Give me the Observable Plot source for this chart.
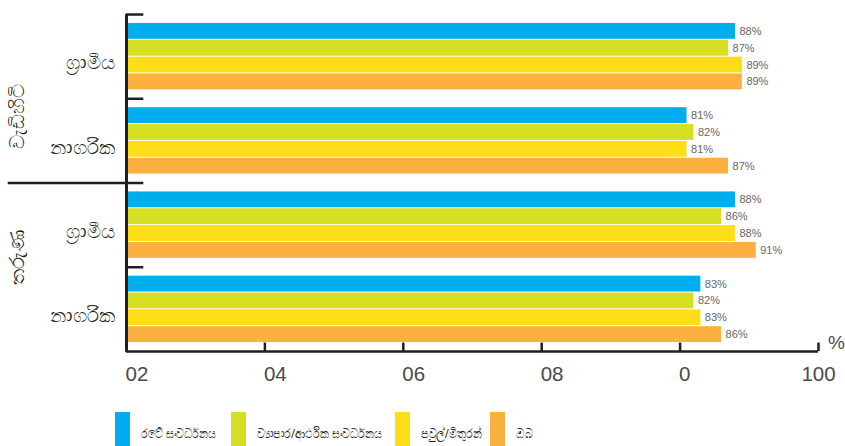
<!DOCTYPE html>
<html>
<head>
<meta charset="utf-8">
<script src="https://cdn.jsdelivr.net/npm/d3@7"></script>
<script src="https://cdn.jsdelivr.net/npm/@observablehq/plot@0.6"></script>
<style>
  html, body { margin: 0; padding: 0; background: #fff; }
  #chart svg { display: block; overflow: visible; }
  #legend { display: grid; grid-template-columns: 116px 164px 95px auto; align-items: end; height: 46px; box-sizing: border-box; padding: 10px 0 0 115px; font-family: "Noto Sans", sans-serif; font-size: 13px; color: #231f20; }
  .item { display: flex; align-items: flex-end; }
  .sw { width: 15px; height: 34px; margin-right: 11px; flex: none; }
  .lab { line-height: 1; padding-bottom: 6px; white-space: nowrap; transform: scaleX(0.85); transform-origin: left bottom; }
</style>
</head>
<body>
<div id="chart"></div>
<div id="legend"></div>
<script>
// ---- data ----
const ageGroups = ["වැඩිහිටි", "තරුණ"];
const areas = ["ග්‍රාමීය", "නාගරික"];
const series = ["රටේ සංවර්ධනය", "ව්‍යාපාර/ආර්ථික සංවර්ධනය", "පවුල්/මිතුරන්", "ඔබ"];
const colors = ["#00aeef", "#d7df23", "#ffde17", "#fbb040"];
const adultRural = [88, 87, 89, 89];
const adultUrban = [81, 82, 81, 87];
const youthRural = [88, 86, 88, 91];
const youthUrban = [83, 82, 83, 86];
const xTicks = [0, 20, 40, 60, 80, 100];
const xTickLabels = ["02", "04", "06", "08", "0", "100"];
const unitLabel = "%";

// ---- build table ----
const groupValues = [adultRural, adultUrban, youthRural, youthUrban];
const groups = groupValues.map((vals, g) => ({
  g, age: ageGroups[Math.floor(g / 2)], area: areas[g % 2], vals
}));
const rows = [];
groups.forEach(gr => gr.vals.forEach((v, s) => rows.push({key: gr.g + "|" + s, series: series[s], value: v})));
const seps = ["top", "sep1", "sep2", "sep3"];
const yDomain = [];
groups.forEach((gr, g) => { yDomain.push(seps[g]); series.forEach((_, s) => yDomain.push(g + "|" + s)); });
yDomain.push("bottom");
const ticks = xTicks.map((v, i) => ({v, label: xTickLabels[i]}));

const W = 845, H = 400;
const sans = "'Liberation Sans', Arial, sans-serif";
const ink = "#231f20";

const plot = Plot.plot({
  width: W, height: H,
  marginLeft: 126, marginRight: 27, marginTop: 5.6, marginBottom: 40.6,
  x: {domain: [0, 100], axis: null},
  y: {domain: yDomain, axis: null, paddingInner: 0, paddingOuter: 0, round: false},
  color: {domain: series, range: colors},
  style: {fontFamily: "'Noto Sans', sans-serif", background: "#fff"},
  marks: [
    Plot.barX(rows, {x: "value", y: "key", fill: "series", insetTop: 0.5, insetBottom: 0.5}),
    Plot.text(rows, {x: "value", y: "key", text: d => d.value + "%", textAnchor: "start", dx: 4, fill: "#666", fontSize: 11, fontFamily: sans}),
    // axis frame
    Plot.ruleX([0], {insetTop: 8.4, insetBottom: 7.6, stroke: ink, strokeWidth: 3}),
    Plot.ruleY(["bottom"], {x1: 0, x2: 100, stroke: ink, strokeWidth: 2.5}),
    Plot.ruleY(seps, {x1: 0, x2: 2.5, stroke: ink, strokeWidth: 2.5}),
    Plot.ruleY(["sep2"], {x1: -17.1, x2: 0, stroke: ink, strokeWidth: 2.5}),
    Plot.tickX(xTicks.slice(1), {x: d => d, y: () => "bottom", insetBottom: 8.4, stroke: ink, strokeWidth: 2.5}),
    // x tick labels
    Plot.text(ticks.slice(0, -1), {x: "v", y: () => "bottom", text: "label", textAnchor: "start", dx: -1, dy: 23, fontSize: 20.5, fill: "#4a4a4a", fontFamily: sans, ariaLabel: "xlabels"}),
    Plot.text(ticks.slice(-1), {x: "v", y: () => "bottom", text: "label", dy: 23, fontSize: 20.5, fill: "#4a4a4a", fontFamily: sans, ariaLabel: "xlabels"}),
    Plot.text([unitLabel], {x: () => 100, y: () => "bottom", text: d => d, dx: 18, dy: -9, fontSize: 19, fill: "#4a4a4a", fontFamily: sans, ariaLabel: "xlabels"}),
    // area labels
    Plot.text(groups, {x: () => 0, y: d => d.g + "|2", text: "area", textAnchor: "end", dx: -12, dy: -2, fontSize: 19.5, fill: ink}),
    // age group labels
    Plot.text([groups[0]], {frameAnchor: "left", y: () => "1|0", text: "age", rotate: -90, textAnchor: "middle", dx: -109, dy: 1, fontSize: 19.5, fill: ink}),
    Plot.text([groups[2]], {frameAnchor: "left", y: () => "2|3", text: "age", rotate: -90, textAnchor: "middle", dx: -109, dy: 7, fontSize: 19.5, fill: ink})
  ]
});
document.getElementById("chart").appendChild(plot);

// condense the axis digits (the original uses a condensed face)
d3.select(plot).selectAll('g[aria-label="xlabels"] text').each(function () {
  const t = this;
  const tr = t.getAttribute("transform");
  if (tr) {
    t.setAttribute("transform", tr + " scale(0.82,1)");
  } else {
    const x = +t.getAttribute("x") || 0, y = +t.getAttribute("y") || 0;
    t.removeAttribute("x"); t.removeAttribute("y");
    t.setAttribute("transform", `translate(${x},${y}) scale(0.82,1)`);
  }
});

// ---- legend ----
const leg = d3.select("#legend");
series.forEach((s, i) => {
  const it = leg.append("div").attr("class", "item");
  it.append("div").attr("class", "sw").style("background", colors[i]);
  it.append("div").attr("class", "lab").text(s);
});
</script>
</body>
</html>
